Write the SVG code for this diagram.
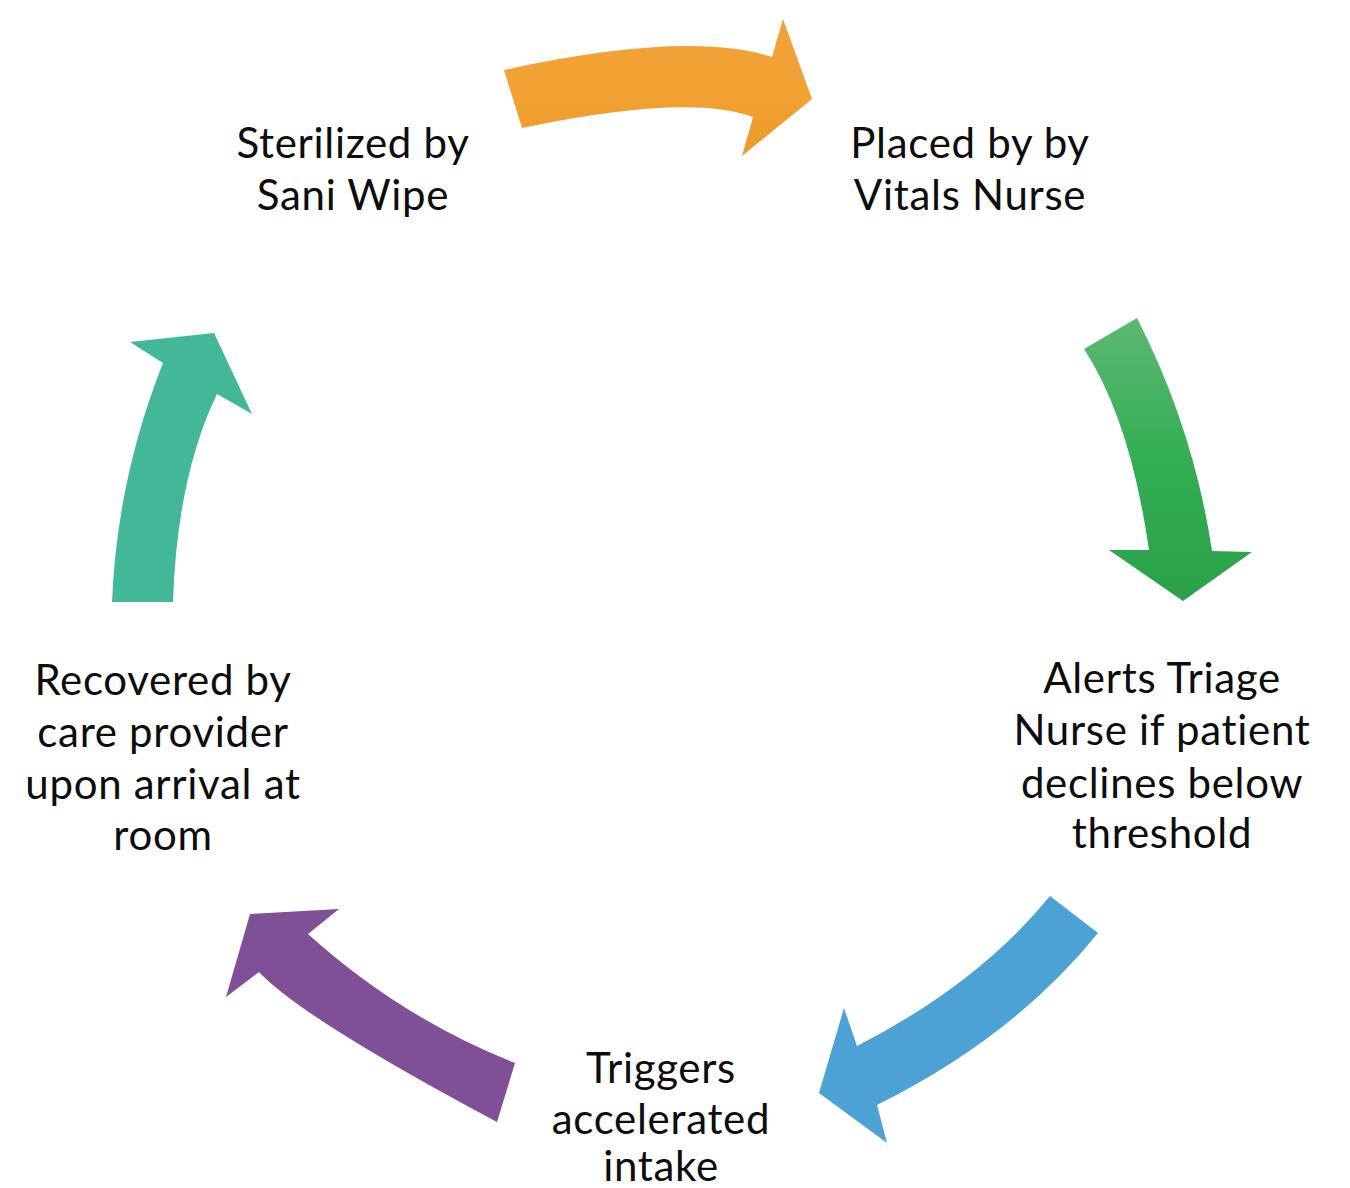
<svg xmlns="http://www.w3.org/2000/svg" width="1350" height="1188" viewBox="0 0 1350 1188">
<defs>
<linearGradient id="gOrange" x1="0" y1="0" x2="0" y2="1">
<stop offset="0" stop-color="#F0A23A"/>
<stop offset="0.5" stop-color="#F3A233"/>
<stop offset="1" stop-color="#EC9A2A"/>
</linearGradient>
<linearGradient id="gGreen" x1="0" y1="0" x2="0" y2="1">
<stop offset="0" stop-color="#5CB872"/>
<stop offset="0.5" stop-color="#33AE54"/>
<stop offset="1" stop-color="#2AA149"/>
</linearGradient>
<style>
.lbl{font-family:"Lato","Noto Sans","Liberation Sans",sans-serif;font-size:42px;letter-spacing:0.7px;fill:#0d0d0d;text-anchor:middle}
</style>
</defs>
<rect width="1350" height="1188" fill="#ffffff"/>
<g id="connectors">
<path id="arrow-orange" fill="url(#gOrange)" d="M504 70 Q688 30 772 57 L783 19 L812 99 L742 156 L753 117 Q688 93 522 128 Z"/>
<path id="arrow-green" fill="url(#gGreen)" d="M1084 349 L1137 318 Q1194 430 1212 551 L1252 552 L1183 601 L1109 550 L1149 550 Q1130 419 1084 349 Z"/>
<path id="arrow-blue" fill="#4CA2D5" d="M1050 896 L1098 933 Q1014 1037 877 1105 L887 1143 L819 1093 L844 1008 L857 1046 Q978 984 1050 896 Z"/>
<path id="arrow-purple" fill="#7F4F98" d="M497 1122 L515 1063 Q401 1018 308 934 L339 909 L250 914 L226 997 L259 972 Q302 1018 497 1122 Z"/>
<path id="arrow-teal" fill="#43B899" d="M112 602 L173 602 Q177 477 217 394 L252 414 L214 333 L130 342 L163 363 Q117 479 112 602 Z"/>
</g>
<g id="node-sterilized">
<text class="lbl" x="353" y="158">Sterilized by</text>
<text class="lbl" x="353" y="210">Sani Wipe</text>
</g>
<g id="node-placed">
<text class="lbl" x="970" y="158">Placed by by</text>
<text class="lbl" x="970" y="210">Vitals Nurse</text>
</g>
<g id="node-alerts">
<text class="lbl" x="1162" y="693">Alerts Triage</text>
<text class="lbl" x="1162" y="745">Nurse if patient</text>
<text class="lbl" x="1162" y="798">declines below</text>
<text class="lbl" x="1162" y="848">threshold</text>
</g>
<g id="node-triggers">
<text class="lbl" x="661" y="1083">Triggers</text>
<text class="lbl" x="661" y="1134">accelerated</text>
<text class="lbl" x="661" y="1181">intake</text>
</g>
<g id="node-recovered">
<text class="lbl" x="163" y="695">Recovered by</text>
<text class="lbl" x="163" y="747">care provider</text>
<text class="lbl" x="163" y="799">upon arrival at</text>
<text class="lbl" x="163" y="850">room</text>
</g>
</svg>
